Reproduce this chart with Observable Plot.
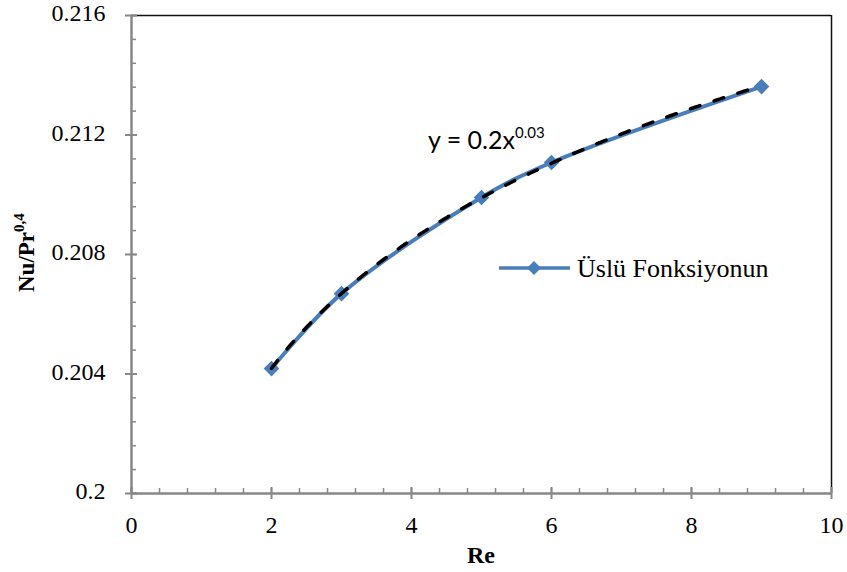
<!DOCTYPE html>
<html>
<head>
<meta charset="utf-8">
<script src="https://cdn.jsdelivr.net/npm/d3@7"></script>
<script src="https://cdn.jsdelivr.net/npm/@observablehq/plot@0.6"></script>
<style>
  html, body { margin: 0; padding: 0; background: #fff; }
</style>
</head>
<body>
<div id="chart"></div>
<script>
// ---- data ----
const reValues = [2, 3, 5, 6, 9];
const nuPrValues = [0.20418, 0.20669, 0.20991, 0.21108, 0.21362];
const xTickValues = [0, 2, 4, 6, 8, 10];
const yTickValues = [0.2, 0.204, 0.208, 0.212, 0.216];
const seriesName = "Üslü Fonksiyonun";
const equationMain = "y = 0.2x";
const equationExp = "0.03";
const xTitle = "Re";
const yTitleMain = "Nu/Pr";
const yTitleSup = "0,4";

const points = reValues.map((x, i) => ({x, y: nuPrValues[i]}));

// power trendline y = a x^b fitted by least squares in log space
const lx = reValues.map(Math.log), ly = nuPrValues.map(Math.log);
const mx = d3.mean(lx), my = d3.mean(ly);
const b = d3.sum(lx, (v, i) => (v - mx) * (ly[i] - my)) / d3.sum(lx, v => (v - mx) ** 2);
const a = Math.exp(my - b * mx);
const trend = d3.range(2, 9.0001, 0.05).map(x => ({x, y: a * Math.pow(x, b)}));

const xMinor = d3.range(0, 10.001, 0.4);
const yMinor = d3.range(0, 21).map(i => 0.2 + i * 0.0008);

const blue = "#4A7EBB";
const axisGray = "#878787";
const serif = "'Liberation Serif', 'Times New Roman', serif";

const diamond = {
  draw(ctx, size) {
    const r = Math.sqrt(size / Math.PI) * 1.3;
    ctx.moveTo(0, -r); ctx.lineTo(r, 0); ctx.lineTo(0, r); ctx.lineTo(-r, 0); ctx.closePath();
  }
};

const chart = Plot.plot({
  width: 847,
  height: 572,
  marginLeft: 131,
  marginRight: 16,
  marginTop: 15,
  marginBottom: 79,
  style: {fontFamily: serif, fontSize: "22px", color: "#000", background: "#fff"},
  x: {domain: [0, 10], axis: null, label: null},
  y: {domain: [0.2, 0.216], axis: null, label: null},
  marks: [
    // frame: top & right
    Plot.ruleY([0.216], {stroke: "#111", strokeWidth: 1.5}),
    Plot.ruleX([10], {stroke: "#111", strokeWidth: 1.5}),
    // minor ticks
    Plot.ruleX(xMinor, {x: d => d, y1: 0.2, y2: 0.2, insetTop: -5, insetBottom: 0, stroke: axisGray, strokeWidth: 1.5}),
    Plot.ruleY(yMinor, {y: d => d, x1: 0, x2: 0, insetLeft: 0, insetRight: -5, stroke: axisGray, strokeWidth: 1.5}),
    // major ticks
    Plot.ruleX(xTickValues, {x: d => d, y1: 0.2, y2: 0.2, insetTop: -6, insetBottom: -6, stroke: axisGray, strokeWidth: 2}),
    Plot.ruleY(yTickValues, {y: d => d, x1: 0, x2: 0, insetLeft: -6, insetRight: -6, stroke: axisGray, strokeWidth: 2}),
    // axis lines
    Plot.ruleX([0], {stroke: axisGray, strokeWidth: 2.5}),
    Plot.ruleY([0.2], {stroke: axisGray, strokeWidth: 2.5}),
    // tick labels
    Plot.text(xTickValues, {x: d => d, frameAnchor: "bottom", dy: 32, text: d => String(d),
      fontSize: 24, fontFamily: serif, fill: "#000", textAnchor: "middle", lineAnchor: "middle"}),
    Plot.text(yTickValues, {y: d => d, frameAnchor: "left", dx: -26, dy: -2, text: d => String(d),
      fontSize: 24, fontFamily: serif, fill: "#000", textAnchor: "end", lineAnchor: "middle"}),
    // data
    Plot.line(points, {x: "x", y: "y", stroke: blue, strokeWidth: 4, curve: "catmull-rom"}),
    Plot.dot(points, {x: "x", y: "y", symbol: diamond, r: 6, fill: blue, stroke: "none"}),
    // trendline
    Plot.line(trend, {x: "x", y: "y", stroke: "#000", strokeWidth: 3.5, strokeDasharray: "10,15", strokeLinecap: "round"})
  ]
});

document.getElementById("chart").appendChild(chart);

const svg = d3.select(chart);

// x title
svg.append("text").attr("x", 481).attr("y", 563).attr("text-anchor", "middle")
  .attr("font-family", serif).attr("font-weight", "bold").attr("font-size", 24).attr("fill", "#000").text(xTitle);

// y title
const yt = svg.append("text").attr("transform", "translate(34,292) rotate(-90)").attr("text-anchor", "start")
  .attr("font-family", serif).attr("font-weight", "bold").attr("font-size", 23).attr("fill", "#000");
yt.append("tspan").text(yTitleMain);
yt.append("tspan").attr("font-size", 15).attr("dy", -10).text(yTitleSup);

// equation
const eq = svg.append("text").attr("x", 428).attr("y", 149).attr("text-anchor", "start")
  .attr("font-family", "Lato, 'Open Sans', sans-serif").attr("font-size", 25).attr("fill", "#000");
eq.append("tspan").text(equationMain);
eq.append("tspan").attr("font-size", 15).attr("dy", -11).text(equationExp);

// legend
const lg = svg.append("g");
lg.append("line").attr("x1", 499).attr("x2", 570).attr("y1", 268).attr("y2", 268)
  .attr("stroke", blue).attr("stroke-width", 3.5);
lg.append("path").attr("d", "M534,261L541,268L534,275L527,268Z").attr("fill", blue);
lg.append("text").attr("x", 577).attr("y", 277).attr("text-anchor", "start").attr("font-family", serif).attr("font-size", 26)
  .attr("fill", "#000").text(seriesName);
</script>
</body>
</html>
